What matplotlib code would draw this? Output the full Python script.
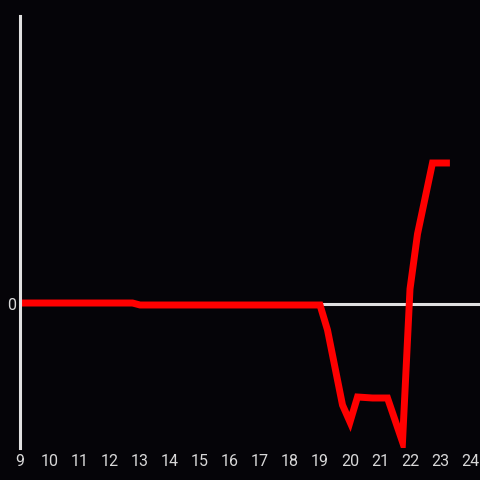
import matplotlib.pyplot as plt

plt.rcParams['font.family'] = ['Roboto', 'DejaVu Sans']

# hours of the day and the value at each (units are arbitrary, 0 = baseline)
hours = [9, 12.75, 13, 19, 19.25, 19.75, 20, 20.25, 20.75, 21.25, 21.75, 22, 22.25, 22.75, 23.33]
values = [0.1, 0.1, -0.1, -0.1, -2.6, -10.1, -11.8, -9.3, -9.4, -9.4, -13.8, 1.5, 7.0, 14.1, 14.1]
xticks = list(range(9, 25))

bg = '#050408'
fg = '#e0e0e0'

fig = plt.figure(figsize=(4.8, 4.8), dpi=100, facecolor=bg)
ax = fig.add_axes([20 / 480, 32 / 480, 460 / 480, 432 / 480], facecolor=bg)

ax.axhline(0, color=fg, lw=2.2, zorder=1)
ax.plot(hours, values, color='#ff0000', lw=5, solid_joinstyle='miter',
        solid_capstyle='butt', zorder=2)

ax.set_xlim(9, 9 + 460 / 30)
ax.set_ylim(-14.4, 28.8)
ax.set_xticks(xticks)
ax.set_yticks([0])
ax.tick_params(length=0, colors='#d8d8d8', labelsize=11.5)
ax.tick_params(axis='x', pad=4)
ax.tick_params(axis='y', pad=3)

for s in ['top', 'right', 'bottom']:
    ax.spines[s].set_visible(False)
ax.spines['left'].set_color(fg)
ax.spines['left'].set_linewidth(2.2)

fig.savefig('out.png', dpi=100, facecolor=bg)
